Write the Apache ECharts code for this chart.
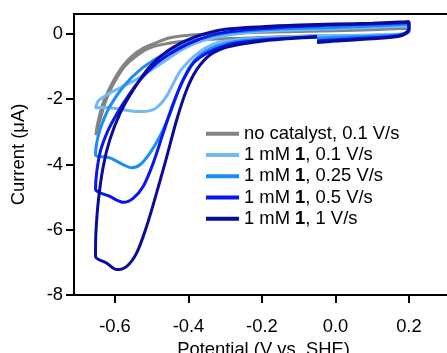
<!DOCTYPE html>
<html>
<head>
<meta charset="utf-8">
<script src="https://cdn.jsdelivr.net/npm/echarts@6/dist/echarts.min.js"></script>
<style>
  html, body { margin: 0; padding: 0; background: #fff; }
  #chart { width: 447px; height: 353px; }
</style>
</head>
<body>
<div id="chart"></div>
<script>
// tick labels
const xTicks = [-0.6, -0.4, -0.2, 0.0, 0.2]
const yTicks = [-8, -6, -4, -2, 0]

// legend names
const names = [
  'no catalyst, 0.1 V/s',
  '1 mM 1, 0.1 V/s',
  '1 mM 1, 0.25 V/s',
  '1 mM 1, 0.5 V/s',
  '1 mM 1, 1 V/s'
]
const colors = ['#838383', '#74b8f8', '#1b8ef5', '#0717ee', '#0b0b99']

// no catalyst, 0.1 V/s  (V vs. SHE / µA)
const grayV = [-0.05, -0.15, -0.25, -0.35, -0.42, -0.47, -0.51, -0.545, -0.574, -0.595, -0.612, -0.625, -0.636, -0.645, -0.652,
  -0.652, -0.649, -0.642, -0.632, -0.618, -0.6, -0.58, -0.556, -0.525, -0.49, -0.45, -0.4, -0.3, -0.2, 0, 0.1, 0.2,
  0.2, 0.17, 0.1, 0, -0.05]
const grayI = [-0.06, -0.09, -0.13, -0.17, -0.23, -0.32, -0.45, -0.7, -1.0, -1.35, -1.7, -2.05, -2.45, -2.8, -3.1,
  -3.1, -2.85, -2.5, -2.1, -1.75, -1.35, -1.0, -0.7, -0.45, -0.28, -0.12, -0.04, 0.02, 0.05, 0.1, 0.13, 0.17,
  0.05, -0.02, -0.04, -0.05, -0.06]

// 1 mM 1, 0.1 V/s
const lightV = [-0.05, -0.15, -0.25, -0.3, -0.34, -0.37, -0.396, -0.423, -0.441, -0.459, -0.478, -0.496, -0.523, -0.55, -0.59, -0.63, -0.653,
  -0.653, -0.645, -0.62, -0.58, -0.54, -0.5, -0.46, -0.42, -0.38, -0.33, -0.28, -0.2, 0, 0.1, 0.2,
  0.2, 0.18, 0.1, 0, -0.05]
const lightI = [-0.05, -0.1, -0.16, -0.22, -0.35, -0.55, -0.8, -1.15, -1.51, -1.9, -2.17, -2.32, -2.38, -2.37, -2.3, -2.25, -2.27,
  -2.27, -2.05, -1.85, -1.62, -1.38, -1.1, -0.8, -0.5, -0.28, -0.12, -0.02, 0.08, 0.16, 0.2, 0.24,
  0.08, 0.0, -0.03, -0.05, -0.05]

// 1 mM 1, 0.25 V/s
const midV = [-0.05, -0.15, -0.25, -0.3, -0.34, -0.369, -0.396, -0.423, -0.45, -0.478, -0.505, -0.532, -0.555, -0.577, -0.614, -0.653,
  -0.653, -0.65, -0.641, -0.628, -0.614, -0.577, -0.532, -0.478, -0.423, -0.369, -0.3, -0.2, 0, 0.1, 0.2,
  0.2, 0.18, 0.1, 0, -0.05]
const midI = [-0.08, -0.13, -0.2, -0.3, -0.45, -0.65, -1.0, -1.61, -2.43, -3.14, -3.65, -4.01, -4.1, -4.01, -3.8, -3.7,
  -3.7, -3.35, -2.94, -2.55, -2.22, -1.61, -1.1, -0.69, -0.39, -0.16, 0.02, 0.12, 0.2, 0.24, 0.3,
  0.1, -0.02, -0.07, -0.1, -0.14]

// 1 mM 1, 0.5 V/s
const blueV = [-0.05, -0.15, -0.25, -0.3, -0.35, -0.387, -0.414, -0.441, -0.469, -0.496, -0.523, -0.55, -0.577, -0.614, -0.653,
  -0.653, -0.65, -0.641, -0.628, -0.614, -0.577, -0.532, -0.487, -0.432, -0.378, -0.323, -0.25, -0.15, 0, 0.1, 0.2,
  0.2, 0.18, 0.1, 0, -0.05]
const blueI = [-0.1, -0.15, -0.25, -0.36, -0.59, -0.9, -1.41, -2.12, -3.04, -3.96, -4.67, -5.03, -5.16, -4.98, -4.75,
  -4.75, -4.26, -3.65, -3.2, -2.84, -2.12, -1.41, -0.9, -0.49, -0.2, 0.0, 0.12, 0.2, 0.27, 0.3, 0.35,
  0.15, -0.03, -0.12, -0.18, -0.22]

// 1 mM 1, 1 V/s
const navyV = [-0.05, -0.1, -0.187, -0.25, -0.3, -0.341, -0.378, -0.405, -0.432, -0.459, -0.487, -0.514, -0.541, -0.568, -0.595, -0.623, -0.653,
  -0.653, -0.652, -0.645, -0.632, -0.614, -0.586, -0.55, -0.505, -0.459, -0.405, -0.35, -0.3, -0.2, -0.1, 0, 0.1, 0.19, 0.2,
  0.2, 0.19, 0.17, 0.1, 0, -0.05]
const navyI = [-0.08, -0.12, -0.2, -0.3, -0.42, -0.64, -1.1, -1.71, -2.63, -3.76, -4.88, -5.9, -6.71, -7.12, -7.22, -7.02, -6.82,
  -6.82, -6.1, -5.08, -4.06, -3.24, -2.43, -1.71, -1.0, -0.54, -0.2, 0.02, 0.14, 0.22, 0.27, 0.3, 0.33, 0.37, 0.38,
  0.15, 0.0, -0.08, -0.15, -0.22, -0.26]

const curves = [[grayV, grayI], [lightV, lightI], [midV, midI], [blueV, blueI], [navyV, navyI]]

const font = 'Liberation Sans, Arial, sans-serif'
const fs = 18.4

const legendText = (name) => name.replace('1 mM 1', '1 mM {b|1}')

const chart = echarts.init(document.getElementById('chart'))

const option = {
  animation: false,
  backgroundColor: '#fff',
  grid: {
    left: 74,
    top: 14,
    right: -6,
    bottom: 58,
    outerBoundsMode: 'none',
    containLabel: false,
    show: true,
    borderColor: '#000',
    borderWidth: 2
  },
  legend: {
    orient: 'vertical',
    left: 201,
    top: 118,
    itemGap: 0,
    itemWidth: 33,
    itemHeight: 4,
    icon: 'rect',
    data: names,
    formatter: legendText,
    textStyle: {
      fontFamily: font,
      fontSize: fs,
      color: '#000',
      lineHeight: 21.3,
      rich: {
        b: { fontFamily: font, fontSize: fs, fontWeight: 'bold', color: '#000', lineHeight: 21.3 }
      }
    }
  },
  xAxis: {
    type: 'value',
    min: -0.7116,
    max: 0.32,
    splitLine: { show: false },
    axisLine: { onZero: false, lineStyle: { color: '#000', width: 2 } },
    axisTick: { length: 8, lineStyle: { color: '#000', width: 2 }, customValues: xTicks },
    axisLabel: {
      customValues: xTicks,
      formatter: v => v.toFixed(1),
      fontFamily: font,
      fontSize: fs,
      color: '#000',
      margin: 23
    },
    name: 'Potential (V vs. SHE)',
    nameLocation: 'middle',
    nameGap: 39,
    nameTextStyle: { fontFamily: font, fontSize: fs, color: '#000' }
  },
  yAxis: {
    type: 'value',
    min: -8,
    max: 0.61,
    splitLine: { show: false },
    axisLine: { onZero: false, lineStyle: { color: '#000', width: 2 } },
    axisTick: { length: 8, lineStyle: { color: '#000', width: 2 }, customValues: yTicks },
    axisLabel: {
      customValues: yTicks,
      fontFamily: font,
      fontSize: fs,
      color: '#000',
      margin: 11
    },
    name: 'Current (μA)',
    nameLocation: 'middle',
    nameGap: 46,
    nameTextStyle: { fontFamily: font, fontSize: fs, color: '#000' }
  },
  series: curves.map(([v, i], k) => ({
    name: names[k],
    type: 'line',
    data: v.map((x, j) => [x, i[j]]),
    showSymbol: false,
    smooth: 0.3,
    color: colors[k],
    lineStyle: { width: 3, color: colors[k] }
  }))
}

chart.setOption(option)
</script>
</body>
</html>
